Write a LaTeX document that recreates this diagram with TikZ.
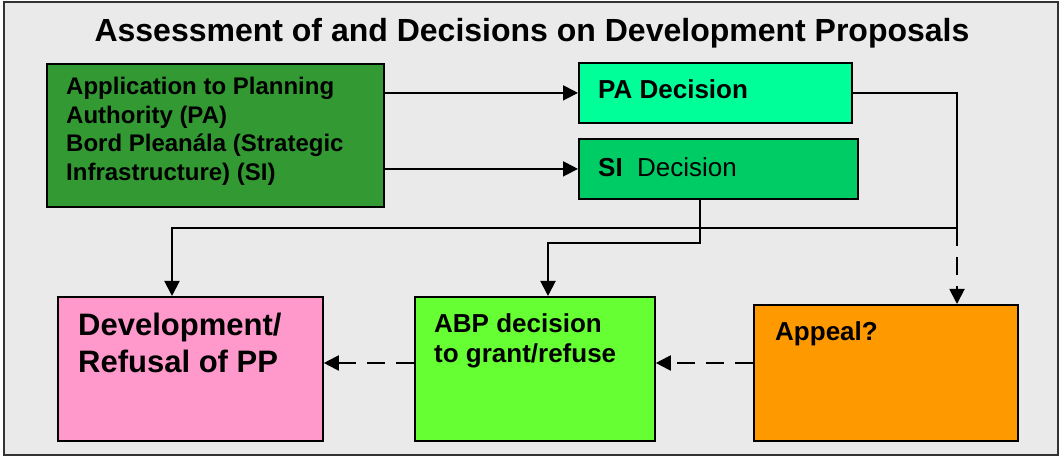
\documentclass[tikz,border=0pt]{standalone}
\usepackage{fontspec}
\setmainfont{Liberation Sans}
\usetikzlibrary{arrows.meta,shadows}
\definecolor{bgcol}{HTML}{EAEAEA}
\definecolor{appcol}{HTML}{339933}
\definecolor{pacol}{HTML}{00FF99}
\definecolor{sicol}{HTML}{00CC66}
\definecolor{devcol}{HTML}{FF99CC}
\definecolor{abpcol}{HTML}{66FF33}
\definecolor{appealcol}{HTML}{FF9900}
\begin{document}
\begin{tikzpicture}[x=1pt,y=-1pt,
  box/.style={draw=black, line width=1.8pt, inner sep=0pt, fill=#1, anchor=north west,
    drop shadow={shadow xshift=1.5pt, shadow yshift=-1.5pt, fill=black!45, opacity=1}},
  txt/.style={inner sep=0pt, anchor=north west, align=left},
  conn/.style={line width=1.9pt, draw=black},
  arr/.style={conn, -{Triangle[length=15pt,width=15pt]}},
  dsh/.style={dash pattern=on 18pt off 11pt}]
\useasboundingbox (0,0) rectangle (1061,457);
\draw[line width=1.5pt, draw=black!80, fill=bgcol] (4,2) rectangle (1058,455);
\node[inner sep=0pt, anchor=base, font=\fontsize{32}{38}\selectfont\bfseries] (title) at (532,42) {Assessment of and Decisions on Development Proposals};
% boxes
\node[box=appcol, minimum width=337pt, minimum height=143pt] (app) at (46,63) {};
\node[box=pacol, minimum width=273pt, minimum height=60pt] (pa) at (578,62) {};
\node[box=sicol, minimum width=279pt, minimum height=60pt] (si) at (578,138) {};
\node[box=devcol, minimum width=265pt, minimum height=144pt] (dev) at (57,296) {};
\node[box=abpcol, minimum width=240pt, minimum height=144pt] (abp) at (414,296) {};
\node[box=appealcol, minimum width=264pt, minimum height=136pt] (appeal) at (753,304) {};
% texts
\node[txt, font=\fontsize{24}{28.5}\selectfont\bfseries] (apptext) at (66,77) {Application to Planning\\Authority (PA)\\Bord Pleanála (Strategic\\Infrastructure) (SI)};
\node[txt, font=\fontsize{26}{30}\selectfont\bfseries] (patext) at (598,79) {PA Decision};
\node[txt, font=\fontsize{26}{30}\selectfont] (sitext) at (598,157) {\textbf{SI}\ \ Decision};
\node[txt, font=\fontsize{31}{37}\selectfont\bfseries] (devtext) at (78,313) {Development/\\Refusal of PP};
\node[txt, font=\fontsize{26}{30}\selectfont\bfseries] (abptext) at (434,313) {ABP decision\\to grant/refuse};
\node[txt, font=\fontsize{26}{30}\selectfont\bfseries] (appealtext) at (775,321) {Appeal?};
% connectors
\draw[arr] (app.east |- pa.west) -- (pa.west);
\draw[arr] (app.east |- si.west) -- (si.west);
\coordinate (j1) at (957,228);
\coordinate (k1) at (172,228);
\draw[conn] (pa.east) -| (j1);
\draw[arr] (j1) -- (k1) -- (k1 |- dev.north);
\draw[arr, dsh] (j1) -- (j1 |- appeal.north);
\coordinate (s1) at (700,243);
\coordinate (s2) at (548,243);
\draw[arr] (s1 |- si.south) -- (s1) -- (s2) -- (s2 |- abp.north);
\coordinate (h) at (0,363);
\draw[arr, dsh] (appeal.west |- h) -- (abp.east |- h);
\draw[arr, dsh] (abp.west |- h) -- (dev.east |- h);
\end{tikzpicture}
\end{document}
